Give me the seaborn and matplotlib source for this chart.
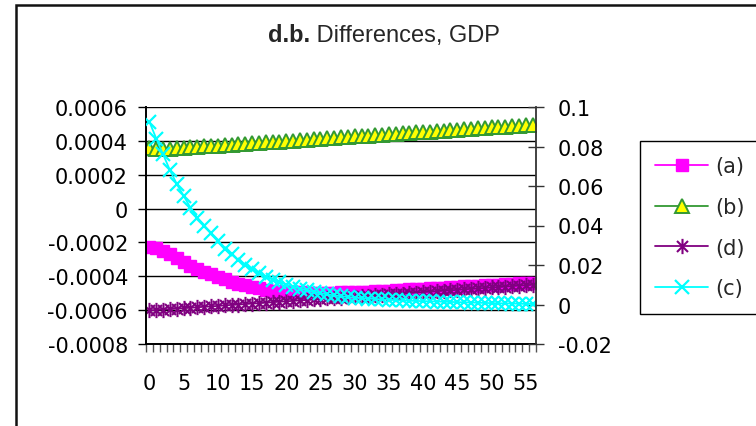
import matplotlib
matplotlib.use("Agg")
import matplotlib.pyplot as plt
import numpy as np
import pandas as pd
import seaborn as sns
from matplotlib.patches import Rectangle
from matplotlib.path import Path
from matplotlib.ticker import FixedLocator, FixedFormatter

# ---- data ---------------------------------------------------------------
periods = list(range(57))

series_a = [-0.000226, -0.000232, -0.000248, -0.000268, -0.00029, -0.000315, -0.000338,
            -0.000356, -0.000373, -0.000389, -0.000404, -0.000418, -0.000431, -0.000443,
            -0.000454, -0.000464, -0.000472, -0.000479, -0.000484, -0.000488, -0.000491,
            -0.000493, -0.000495, -0.000496, -0.000497, -0.000497, -0.000497, -0.000496,
            -0.000495, -0.000494, -0.000493, -0.000491, -0.00049, -0.000488, -0.000486,
            -0.000484, -0.000482, -0.00048, -0.000478, -0.000476, -0.000474, -0.000472,
            -0.00047, -0.000467, -0.000465, -0.000463, -0.00046, -0.000458, -0.000456,
            -0.000453, -0.000451, -0.000449, -0.000447, -0.000444, -0.000442, -0.000439,
            -0.000437]

series_b = [0.000358, 0.000352, 0.000352, 0.000354, 0.000357, 0.000359, 0.000362, 0.000364,
            0.000367, 0.00037, 0.000372, 0.000375, 0.000378, 0.00038, 0.000383, 0.000386,
            0.000388, 0.000391, 0.000394, 0.000396, 0.000399, 0.000402, 0.000404, 0.000407,
            0.00041, 0.000412, 0.000415, 0.000418, 0.00042, 0.000423, 0.000426, 0.000428,
            0.000431, 0.000434, 0.000436, 0.000439, 0.000442, 0.000444, 0.000447, 0.00045,
            0.000452, 0.000455, 0.000458, 0.00046, 0.000463, 0.000466, 0.000468, 0.000471,
            0.000474, 0.000476, 0.000479, 0.000482, 0.000484, 0.000487, 0.00049, 0.000493,
            0.000496]

series_d = [-0.000602, -0.000599, -0.000597, -0.000594, -0.000591, -0.000588, -0.000586,
            -0.000583, -0.00058, -0.000578, -0.000575, -0.000572, -0.000569, -0.000567,
            -0.000564, -0.000561, -0.000559, -0.000556, -0.000553, -0.00055, -0.000548,
            -0.000545, -0.000542, -0.00054, -0.000537, -0.000534, -0.000531, -0.000529,
            -0.000526, -0.000523, -0.000521, -0.000518, -0.000515, -0.000512, -0.00051,
            -0.000507, -0.000504, -0.000502, -0.000499, -0.000496, -0.000493, -0.000491,
            -0.000488, -0.000485, -0.000483, -0.00048, -0.000477, -0.000474, -0.000472,
            -0.000469, -0.000466, -0.000464, -0.000461, -0.000458, -0.000455, -0.000453,
            -0.00045]

# series (c) is read against the right-hand axis
series_c = [0.0925, 0.084, 0.076, 0.068, 0.061, 0.055, 0.049, 0.044, 0.040, 0.036, 0.032,
            0.028, 0.0255, 0.0225, 0.0198, 0.0178, 0.0158, 0.0141, 0.0126, 0.0113, 0.0101,
            0.0091, 0.0081, 0.0072, 0.0064, 0.0057, 0.0051, 0.0046, 0.0042, 0.0038, 0.0035,
            0.0032, 0.0030, 0.0028, 0.0026, 0.0024, 0.0022, 0.0021, 0.0019, 0.0018, 0.0017,
            0.0016, 0.0015, 0.0014, 0.0013, 0.0012, 0.0011, 0.0010, 0.0009, 0.0008, 0.0007,
            0.0006, 0.0006, 0.0005, 0.0004, 0.0003, 0.0003]

left_ticks = [-0.0008, -0.0006, -0.0004, -0.0002, 0.0, 0.0002, 0.0004, 0.0006]
left_labels = ["-0.0008", "-0.0006", "-0.0004", "-0.0002", "0", "0.0002", "0.0004", "0.0006"]
right_ticks = [-0.02, 0.0, 0.02, 0.04, 0.06, 0.08, 0.1]
right_labels = ["-0.02", "0", "0.02", "0.04", "0.06", "0.08", "0.1"]
x_tick_positions = [0, 5, 10, 15, 20, 25, 30, 35, 40, 45, 50, 55]
x_tick_labels = ["0", "5", "10", "15", "20", "25", "30", "35", "40", "45", "50", "55"]

df = pd.DataFrame({"period": periods, "(a)": series_a, "(b)": series_b,
                   "(d)": series_d, "(c)": series_c})

# ---- style --------------------------------------------------------------
sns.set_style("white")
plt.rcParams["font.family"] = ["DejaVu Sans"]
TICK_FS = 15

W, H = 756, 427
fig = plt.figure(figsize=(W / 100, H / 100), dpi=100)
ax = fig.add_axes([146 / W, 1 - 345 / H, (536 - 146) / W, (345 - 108) / H])
ax2 = ax.twinx()

# asterisk marker: vertical stroke plus a diagonal cross
star_path = Path(
    [(0, -1), (0, 1), (-0.72, -0.72), (0.72, 0.72), (-0.72, 0.72), (0.72, -0.72)],
    [Path.MOVETO, Path.LINETO, Path.MOVETO, Path.LINETO, Path.MOVETO, Path.LINETO],
)

sns.lineplot(data=df, x="period", y="(a)", ax=ax, color="#FF00FF", linewidth=1.3,
             marker="s", markersize=9, markerfacecolor="#FF00FF",
             markeredgecolor="#FF00FF", markeredgewidth=1, legend=False)
line_a = ax.lines[-1]
sns.lineplot(data=df, x="period", y="(b)", ax=ax, color="#339933", linewidth=1.3,
             marker="^", markersize=10, markerfacecolor="#FFFF00",
             markeredgecolor="#339933", markeredgewidth=1.4, legend=False)
line_b = ax.lines[-1]
sns.lineplot(data=df, x="period", y="(d)", ax=ax, color="#800080", linewidth=1.3,
             marker=star_path, markersize=11, markerfacecolor="none",
             markeredgecolor="#800080", markeredgewidth=1.5, legend=False)
line_d = ax.lines[-1]
sns.lineplot(data=df, x="period", y="(c)", ax=ax2, color="#00FFFF", linewidth=1.3,
             marker="x", markersize=10, markeredgecolor="#00FFFF",
             markeredgewidth=1.6, legend=False)
line_c = ax2.lines[-1]

# ---- axes ---------------------------------------------------------------
ax.set_xlim(-0.5, 56.5)
ax.set_ylim(-0.0008, 0.0006)
ax2.set_ylim(-0.02, 0.1)
ax.set_xlabel("")
ax.set_ylabel("")
ax2.set_ylabel("")

ax.xaxis.set_major_locator(FixedLocator(x_tick_positions))
ax.xaxis.set_major_formatter(FixedFormatter(x_tick_labels))
ax.xaxis.set_minor_locator(FixedLocator(np.arange(-0.5, 57, 1.0)))
ax.tick_params(axis="x", which="major", length=0, pad=21, labelsize=TICK_FS,
               labelcolor="black")
ax.tick_params(axis="x", which="minor", length=5.5, width=1, color="#555555",
               direction="out", bottom=True)

ax.yaxis.set_major_locator(FixedLocator(left_ticks))
ax.yaxis.set_major_formatter(FixedFormatter(left_labels))
ax.tick_params(axis="y", which="major", length=6, width=1, color="black",
               direction="out", pad=7, labelsize=TICK_FS, labelcolor="black", left=True)

ax2.yaxis.set_major_locator(FixedLocator(right_ticks))
ax2.yaxis.set_major_formatter(FixedFormatter(right_labels))
ax2.tick_params(axis="y", which="major", length=11, width=1, color="#333333",
                direction="inout", pad=10, labelsize=TICK_FS, labelcolor="black",
                right=True)

ax.yaxis.grid(True, color="black", linewidth=1)
ax.xaxis.grid(False)
ax.set_axisbelow(True)

for side in ("top", "right"):
    ax.spines[side].set_visible(False)
for side in ("left", "bottom"):
    ax.spines[side].set_color("black")
    ax.spines[side].set_linewidth(1.4)
for side in ("top", "left", "bottom"):
    ax2.spines[side].set_visible(False)
ax2.spines["right"].set_color("#333333")
ax2.spines["right"].set_linewidth(1.3)

# ---- legend -------------------------------------------------------------
leg = ax2.legend([line_a, line_b, line_d, line_c], ["(a)", "(b)", "(d)", "(c)"],
                 loc="upper left", bbox_to_anchor=(640 / W, 1 - 142 / H),
                 bbox_transform=fig.transFigure, frameon=True, fancybox=False,
                 framealpha=1, edgecolor="black", fontsize=TICK_FS, numpoints=1,
                 handlelength=2.55, handletextpad=0.34,
                 labelspacing=1.0, borderpad=0.72, borderaxespad=0)
leg.get_frame().set_linewidth(1)

# ---- title (bold prefix + regular text) ----------------------------------
title_font = ["Liberation Sans", "DejaVu Sans"]
t1 = fig.text(268 / W, 1 - 42 / H, "d.b.", fontsize=17, fontweight="bold",
              family=title_font, ha="left", va="baseline")
renderer = fig.canvas.get_renderer()
bb = t1.get_window_extent(renderer=renderer)
fig.text(bb.x1 / fig.bbox.width, 1 - 42 / H, " Differences, GDP", fontsize=17,
         family=title_font, ha="left", va="baseline")

# ---- outer chart frame ---------------------------------------------------
fig.add_artist(Rectangle((16 / W, -0.05), 1.2, 1.05 - 6 / H, transform=fig.transFigure,
                         fill=False, edgecolor="#111111", linewidth=1.8))

fig.savefig("out.png", dpi=100)
